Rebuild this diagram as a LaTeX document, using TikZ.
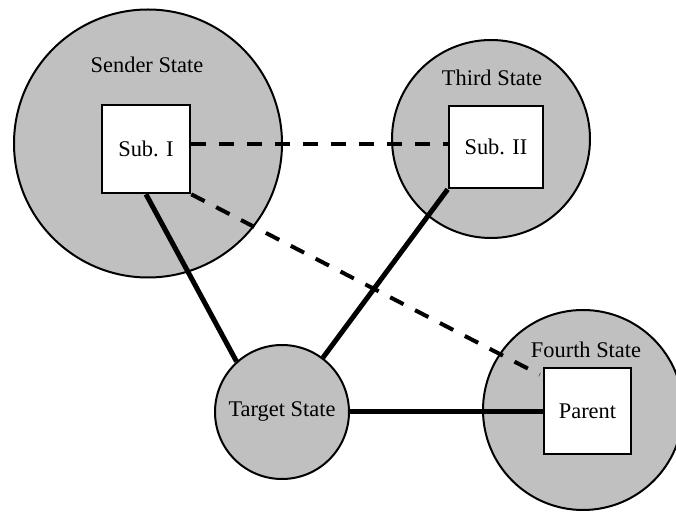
\documentclass[tikz,border=0pt]{standalone}
\usepackage{fontspec}
\setmainfont{Liberation Serif}
\definecolor{stategray}{RGB}{192,192,192}
\begin{document}
\begin{tikzpicture}[x=0.5pt,y=-0.5pt,
  state/.style={circle,draw=black,fill=stategray,line width=1pt,inner sep=0pt,font=\fontsize{11.2}{13}\selectfont},
  subbox/.style={rectangle,draw=black,fill=white,line width=1.3pt,inner sep=0pt,font=\fontsize{11.2}{13}\selectfont},
  lbl/.style={inner sep=0pt,font=\fontsize{11.2}{13}\selectfont},
  solidlink/.style={line width=2.5pt},
  dashlink/.style={line width=2pt,dash pattern=on 7.5pt off 6.5pt}]
\useasboundingbox (0,0) rectangle (676,513);
% state circles
\node[state,minimum size=134pt] (sender) at (148,143.5) {};
\node[state,minimum size=99pt] (third) at (491,139) {};
\node[state,minimum size=100pt] (fourth) at (583,410) {};
\node[state,minimum size=67pt] (target) at (282,412) {Target State};
% circle labels
\node[lbl] (senderlbl) at (147,65) {Sender State};
\node[lbl] (thirdlbl) at (492,78) {Third State};
\node[lbl] (fourthlbl) at (586,350) {Fourth State};
% boxes
\node[subbox,minimum width=44pt,minimum height=44pt] (subI) at (146,149) {Sub. I};
\node[subbox,minimum width=47pt,minimum height=41pt] (subII) at (496,147) {Sub. II};
\node[subbox,minimum width=43.5pt,minimum height=43pt] (parent) at (587.5,411) {Parent};
% connectors
\draw[dashlink] ([yshift=2.5pt]subI.east) -- ([yshift=1.5pt]subII.west);
\draw[dashlink] (subI.south east) -- ([xshift=-1.5pt,yshift=-4pt]parent.north west);
\draw[solidlink] (subI.south) -- (target.132);
\draw[solidlink] (subII.south west) -- (target.53);
\draw[solidlink] (target.east) -- (target.east -| parent.west);
\end{tikzpicture}
\end{document}
